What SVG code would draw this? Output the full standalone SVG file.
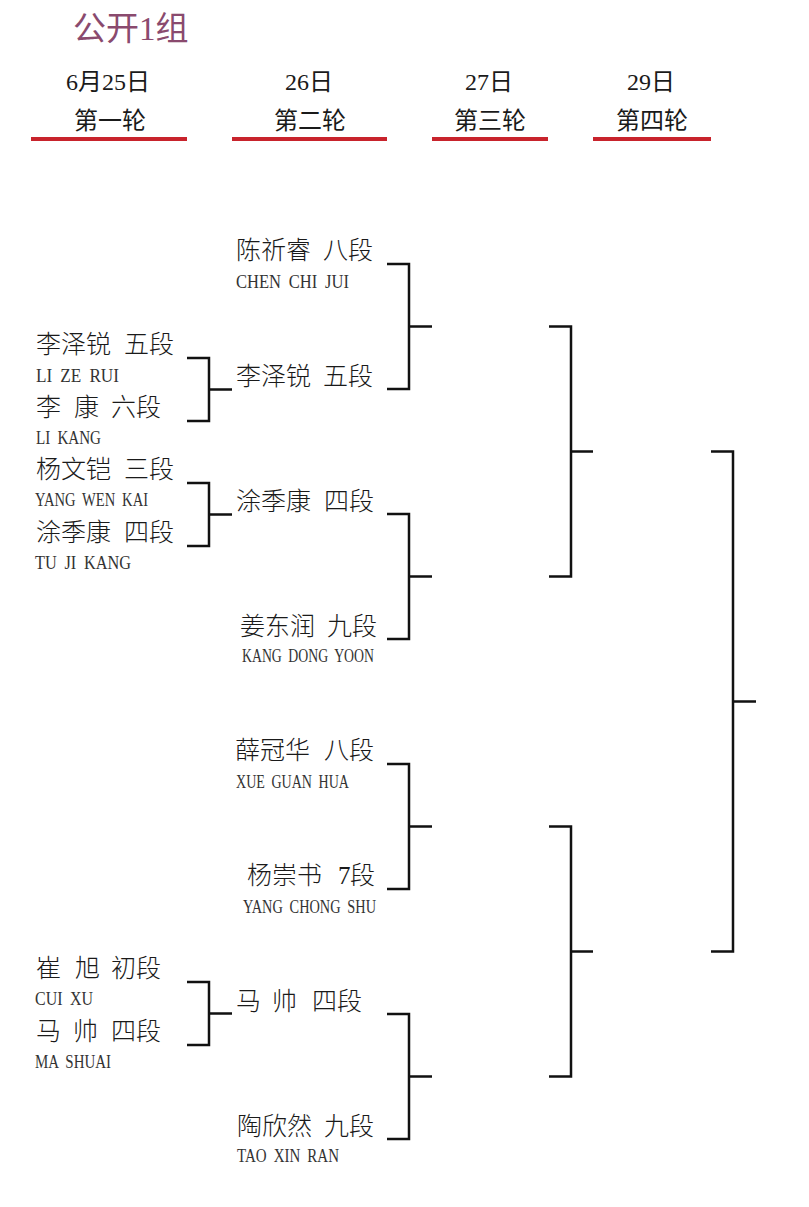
<svg xmlns="http://www.w3.org/2000/svg" width="809" height="1207" viewBox="0 0 809 1207">
<style>
.t{font-family:"Liberation Serif","Noto Sans CJK SC",serif;font-size:33px;fill:#8a4a6e}
.h{font-family:"Liberation Serif","Noto Sans CJK SC",serif;font-size:24px;fill:#1a1a1a;text-anchor:middle}
.n{font-family:"Noto Sans CJK SC",sans-serif;font-size:25px;font-weight:300;fill:#1a1a1a}
.d{font-family:"Liberation Serif",serif}
.r{font-family:"Liberation Serif",serif;font-size:18px;word-spacing:4px;fill:#333}
.u{stroke:#c8232c;stroke-width:4;fill:none}
.c{stroke:#111;stroke-width:2.5;fill:none}
</style>
<rect width="809" height="1207" fill="#fff"/>
<g id="header">
<text class="t" x="73" y="40">公开1组</text>
<text class="h" x="108" y="90">6月25日</text>
<text class="h" x="110" y="129">第一轮</text>
<text class="h" x="309" y="90">26日</text>
<text class="h" x="310" y="129">第二轮</text>
<text class="h" x="489" y="90">27日</text>
<text class="h" x="490" y="129">第三轮</text>
<text class="h" x="651" y="90">29日</text>
<text class="h" x="652" y="129">第四轮</text>
<path class="u" d="M31 139H187M232 139H387M432 139H548M593 139H711"/>
</g>
<g id="round1">
<g id="r1-lizerui"><text class="n" x="36" y="353">李泽锐<tspan x="124">五段</tspan></text><text class="r" x="36" y="382" textLength="83" lengthAdjust="spacingAndGlyphs">LI ZE RUI</text></g>
<g id="r1-likang"><text class="n" x="36" y="416">李<tspan x="74">康</tspan><tspan x="111">六段</tspan></text><text class="r" x="36" y="444" textLength="65" lengthAdjust="spacingAndGlyphs">LI KANG</text></g>
<g id="r1-yangwenkai"><text class="n" x="36" y="478">杨文铠<tspan x="124">三段</tspan></text><text class="r" x="35" y="506" textLength="113" lengthAdjust="spacingAndGlyphs">YANG WEN KAI</text></g>
<g id="r1-tujikang"><text class="n" x="36" y="541">涂季康<tspan x="124">四段</tspan></text><text class="r" x="35" y="569" textLength="96" lengthAdjust="spacingAndGlyphs">TU JI KANG</text></g>
<g id="r1-cuixu"><text class="n" x="36" y="977">崔<tspan x="75">旭</tspan><tspan x="111">初段</tspan></text><text class="r" x="35" y="1005" textLength="58" lengthAdjust="spacingAndGlyphs">CUI XU</text></g>
<g id="r1-mashuai"><text class="n" x="36" y="1040">马<tspan x="73">帅</tspan><tspan x="111">四段</tspan></text><text class="r" x="35" y="1068" textLength="76" lengthAdjust="spacingAndGlyphs">MA SHUAI</text></g>
</g>
<g id="round2">
<g id="r2-chenchijui"><text class="n" x="236" y="259">陈祈睿<tspan x="323">八段</tspan></text><text class="r" x="236" y="288" textLength="113" lengthAdjust="spacingAndGlyphs">CHEN CHI JUI</text></g>
<g id="r2-lizerui"><text class="n" x="236" y="385">李泽锐<tspan x="323">五段</tspan></text></g>
<g id="r2-tujikang"><text class="n" x="236" y="510">涂季康<tspan x="324">四段</tspan></text></g>
<g id="r2-kangdongyoon"><text class="n" x="240" y="635">姜东润<tspan x="327">九段</tspan></text><text class="r" x="242" y="662" textLength="132" lengthAdjust="spacingAndGlyphs">KANG DONG YOON</text></g>
<g id="r2-xueguanhua"><text class="n" x="235" y="759">薛冠华<tspan x="324">八段</tspan></text><text class="r" x="236" y="788" textLength="113" lengthAdjust="spacingAndGlyphs">XUE GUAN HUA</text></g>
<g id="r2-yangchongshu"><text class="n" x="247" y="884">杨崇书<tspan class="d" x="338">7</tspan><tspan x="350">段</tspan></text><text class="r" x="243" y="913" textLength="133" lengthAdjust="spacingAndGlyphs">YANG CHONG SHU</text></g>
<g id="r2-mashuai"><text class="n" x="236" y="1010">马<tspan x="272">帅</tspan><tspan x="312">四段</tspan></text></g>
<g id="r2-taoxinran"><text class="n" x="237" y="1135">陶欣然<tspan x="324">九段</tspan></text><text class="r" x="237" y="1162" textLength="102" lengthAdjust="spacingAndGlyphs">TAO XIN RAN</text></g>
</g>
<g id="connectors">
<path class="c" d="M187 358H209V421H187M209 389.5H232"/>
<path class="c" d="M187 483H209V546H187M209 514.5H232"/>
<path class="c" d="M187 982H209V1045H187M209 1013.5H232"/>
<path class="c" d="M387 264H409V389H387M409 326.5H432"/>
<path class="c" d="M387 514H409V639H387M409 576.5H432"/>
<path class="c" d="M387 764H409V889H387M409 826.5H432"/>
<path class="c" d="M387 1014H409V1139H387M409 1076.5H432"/>
<path class="c" d="M549 326.5H571V576.5H549M571 451.5H593"/>
<path class="c" d="M549 826.5H571V1076.5H549M571 951.5H593"/>
<path class="c" d="M711 451.5H733V951.5H711M733 701.5H756"/>
</g>
</svg>
